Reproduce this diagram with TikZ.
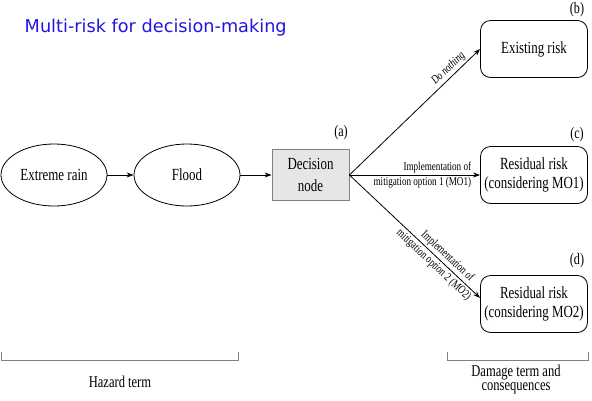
\documentclass[tikz,border=0pt]{standalone}
\usepackage{fontspec}
\usepackage{tikz}
\usetikzlibrary{calc,arrows.meta,shapes.geometric}
\newfontfamily\condfont[FakeStretch=0.76]{Liberation Serif}
\newfontfamily\titlefont{DejaVu Sans}
\definecolor{titleblue}{RGB}{36,20,228}
\definecolor{boxgray}{RGB}{230,230,230}

\begin{document}
\begin{tikzpicture}[x=1pt,y=-1pt,line width=0.8pt,
    every node/.style={font=\condfont\fontsize{17}{19}\selectfont},
    hazard/.style={draw,ellipse,minimum width=106pt,minimum height=62pt,inner sep=0pt},
    decision/.style={draw=gray,fill=boxgray,minimum width=77pt,minimum height=51pt,inner sep=0pt,align=center,font=\condfont\fontsize{17}{22}\selectfont},
    risk/.style={draw,rounded corners=10pt,minimum width=107pt,minimum height=57pt,inner sep=0pt,align=center},
    tag/.style={font=\condfont\fontsize{16}{18}\selectfont},
    small/.style={font=\condfont\fontsize{12}{13}\selectfont,inner sep=2pt},
    bracket/.style={gray,line width=0.9pt},
    link/.style={-{Stealth[length=7pt,width=5pt]}}]
    \useasboundingbox (0,0) rectangle (592,400);

    \node[anchor=west,text=titleblue,font=\titlefont\fontsize{17.7}{20}\selectfont] (title) at (21,28) {Multi-risk for decision-making};

    % hazard chain
    \node[hazard] (rain) at (54,175) {Extreme rain};
    \node[hazard] (flood) at (187,175) {Flood};
    \node[decision] (dec) at (310.5,175) {Decision\\node};
    \node[tag] (ta) at (341,133) {(a)};

    % outcomes
    \node[risk] (ex) at (534,49) {Existing risk};
    \node[risk] (mo1) at (534,175) {Residual risk\\(considering MO1)};
    \node[risk] (mo2) at (534,304) {Residual risk\\(considering MO2)};
    \node[tag] (tb) at (577,10) {(b)};
    \node[tag] (tc) at (577,135) {(c)};
    \node[tag] (td) at (577,261) {(d)};

    \draw[link] (rain) -- (flood);
    \draw[link] (flood) -- (dec);
    \draw[link] (dec.east) -- (ex.west)
      node[small,sloped,above,pos=0.8,font=\condfont\itshape\fontsize{12}{13}\selectfont] (dn) {Do nothing};
    \draw[link] (dec.east) -- (mo1.west)
      node[small,anchor=south east,pos=0.95] (i1a) {Implementation of}
      node[small,anchor=north east,pos=0.95] (i1b) {mitigation option 1 (MO1)};
    \draw[link] (dec.east) -- ([yshift=6pt]mo2.west)
      node[small,sloped,anchor=south east,pos=0.91] (i2a) {Implementation of}
      node[small,sloped,anchor=north east,pos=0.97] (i2b) {mitigation option 2 (MO2)};

    % terms
    \draw[bracket] (1,352) |- (238,360) -- (238,352);
    \draw[bracket] (447,352) |- (588,360) -- (588,352);
    \node[font=\condfont\fontsize{16.5}{14}\selectfont] (haz) at (120,382) {Hazard term};
    \node[align=center,font=\condfont\fontsize{16.5}{14}\selectfont] (dmg) at (516,380) {Damage term and\\consequences};
\end{tikzpicture}
\end{document}
